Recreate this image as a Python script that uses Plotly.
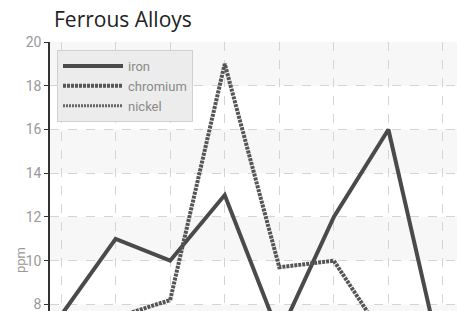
import plotly.graph_objects as go

# ---- data ----
samples = [1, 2, 3, 4, 5, 6, 7, 8]
iron = [7.5, 11, 10, 13, 6.6, 12, 16, 5.1]
chromium = [6.0, 7.4, 8.2, 19, 9.7, 10, 6.2, 5.0]
nickel = [5.0, 4.5, 6.0, 7.0, 5.5, 6.5, 4.5, 5.0]
y_ticks = [8, 10, 12, 14, 16, 18, 20]

W, H = 457, 311
L, T = 50, 42
fig = go.Figure()

fig.add_trace(go.Scatter(x=samples, y=iron, name="iron", mode="lines",
                         line=dict(color="#4a4a4a", width=4)))
fig.add_trace(go.Scatter(x=samples, y=chromium, name="chromium", mode="lines",
                         line=dict(color="#555555", width=4, dash="3px,1px")))
fig.add_trace(go.Scatter(x=samples, y=nickel, name="nickel", mode="lines",
                         line=dict(color="#666666", width=3, dash="2px,1px")))

# alternating background bands between y ticks
shapes = []
for i in range(len(y_ticks) - 1):
    lo, hi = y_ticks[i], y_ticks[i + 1]
    if i % 2 == 1:
        shapes.append(dict(type="rect", xref="paper", yref="y", x0=0, x1=1,
                           y0=lo, y1=hi, fillcolor="#f7f7f7", line=dict(width=0),
                           layer="below"))
shapes.append(dict(type="rect", xref="paper", yref="y", x0=0, x1=1,
                   y0=6, y1=8, fillcolor="#f7f7f7", line=dict(width=0), layer="below"))

PW, PH = W - L, H - T

fig.update_layout(
    width=W, height=H,
    margin=dict(l=L, r=0, t=T, b=0, autoexpand=False),
    paper_bgcolor="white", plot_bgcolor="white",
    shapes=shapes,
    title=dict(text="Ferrous Alloys", x=54 / W, xanchor="left", xref="container",
               y=1 - 20 / H, yanchor="middle", yref="container", pad=dict(l=0, r=0, t=0, b=0),
               font=dict(family="Open Sans, Noto Sans, sans-serif", size=21, color="#222222")),
    showlegend=True,
    legend=dict(x=(57 - L) / PW, xanchor="left", y=1 - (50 - T) / PH, yanchor="top",
                bgcolor="#ececec", bordercolor="#d0d0d0", borderwidth=1,
                itemwidth=60, tracegroupgap=0,
                font=dict(family="Roboto, sans-serif", size=13, color="#8a8a8a")),
    xaxis=dict(range=[0.798, 8.257], showticklabels=False, ticks="",
               showgrid=True, gridcolor="#d4d4d4", griddash="dash", gridwidth=1,
               zeroline=False, showline=False, tickvals=samples, automargin=False),
    yaxis=dict(range=[7.70, 20], tickvals=y_ticks, ticks="outside", ticklen=4,
               tickcolor="#333333", showline=True, linecolor="#333333", linewidth=1.5,
               showgrid=True, gridcolor="#d4d4d4", griddash="dash", gridwidth=1,
               zeroline=False, automargin=False, ticklabeloverflow="allow",
               tickfont=dict(family="Roboto, sans-serif", size=14, color="#999999")),
    annotations=[dict(text="ppm", xref="paper", yref="paper", x=(20 - L) / PW,
                      y=1 - (260 - T) / PH, xanchor="center", yanchor="middle",
                      showarrow=False, textangle=-90,
                      font=dict(family="Roboto, sans-serif", size=13, color="#999999"))],
)

fig.write_html("out.html", config={"displayModeBar": False},
               post_script="document.body.style.margin='0';document.body.style.overflow='hidden';")
